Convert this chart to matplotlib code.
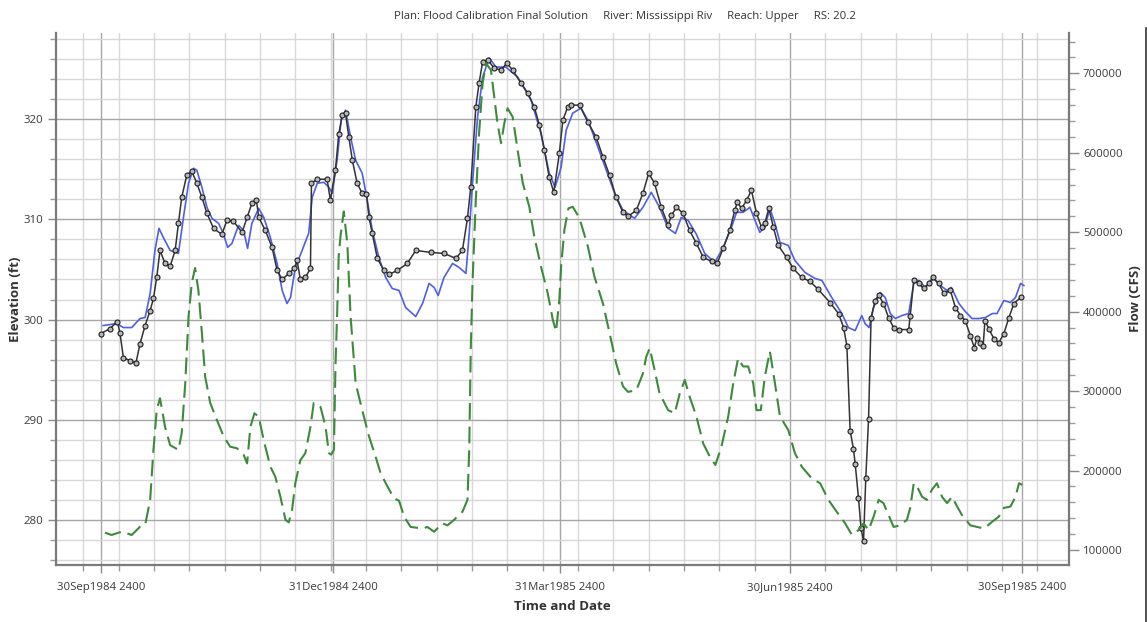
import numpy as np
import matplotlib
matplotlib.use("Agg")
import matplotlib.pyplot as plt
from matplotlib.ticker import FixedLocator, MultipleLocator, FuncFormatter
from matplotlib.lines import Line2D
import matplotlib.dates as mdates

plt.rcParams['font.family'] = ['Open Sans', 'DejaVu Sans']
plt.rcParams['lines.scale_dashes'] = False

# ---------------- data (day offsets from 01Oct1984 0000) ----------------
obs_day = [0, 3.6, 6.5, 7.5, 8.9, 11.5, 13.9, 15.5, 17.5, 19.5,
           20.8, 22.1, 23.4, 25.4, 27.4, 29.4, 30.7, 32.0, 34.0, 36.0,
           38.0, 40.0, 42.0, 44.6, 47.9, 49.9, 52.5, 55.9, 57.9, 59.8,
           61.6, 62.5, 65.1, 67.8, 69.8, 71.8, 74.4, 76.6, 77.7, 79.0,
           81.0, 83.0, 83.4, 85.7, 89.6, 90.9, 92.9, 94.2, 95.6, 96.9,
           98.2, 99.6, 101.5, 103.5, 105.2, 106.2, 107.5, 109.5, 112.1, 114.1,
           117.4, 121.4, 124.7, 130.7, 135.9, 140.6, 143.2, 145.2, 146.5, 148.5,
           149.8, 151.2, 153.2, 155.8, 158.5, 160.8, 163.1, 166.4, 169.1, 171.7,
           173.7, 175.7, 177.6, 179.4, 181.6, 183.0, 184.9, 186.3, 189.6, 192.9,
           196.2, 198.9, 201.5, 204.1, 206.8, 208.8, 212.1, 214.7, 217.0, 219.3,
           222.0, 224.7, 226.0, 228.0, 230.6, 233.2, 235.9, 238.6, 241.9, 244.1,
           246.5, 249.1, 251.1, 252.1, 253.8, 255.8, 257.7, 259.7, 261.7, 263.0,
           264.6, 266.4, 268.3, 271.6, 274.3, 277.6, 280.9, 284.2, 288.8, 292.2,
           294.2, 295.5, 296.8, 298.1, 298.8, 300.1, 301.1, 302.1, 303.0, 304.1,
           305.1, 306.7, 308.1, 310.0, 312.0, 314.0, 316.0, 320.0, 320.6, 322.0,
           324.0, 325.9, 327.9, 329.5, 331.9, 333.9, 336.5, 338.5, 340.5, 342.4,
           344.4, 346.0, 347.1, 348.4, 349.5, 350.2, 351.7, 353.7, 355.7, 357.7,
           359.7, 361.7, 364.3]
obs_elev = [298.6, 299.1, 299.8, 298.7, 296.2, 295.9, 295.7, 297.6, 299.4, 300.9,
            302.1, 304.2, 306.9, 305.6, 305.3, 306.9, 309.6, 312.2, 314.4, 314.8,
            313.6, 312.2, 310.6, 309.1, 308.5, 309.9, 309.8, 308.7, 310.2, 311.6,
            311.9, 310.2, 308.9, 307.2, 304.9, 304.0, 304.6, 305.1, 305.9, 304.0,
            304.2, 305.1, 313.6, 314.0, 314.0, 311.9, 314.9, 318.5, 320.4, 320.6,
            318.2, 315.9, 313.6, 312.6, 312.5, 310.2, 308.6, 306.1, 304.9, 304.5,
            304.9, 305.6, 306.9, 306.7, 306.6, 306.1, 306.9, 310.1, 313.2, 321.2,
            323.6, 325.7, 325.9, 325.1, 324.9, 325.6, 324.9, 323.6, 322.6, 321.2,
            319.4, 316.9, 314.2, 312.7, 316.6, 319.9, 321.2, 321.4, 321.4, 319.7,
            318.2, 316.2, 314.4, 312.2, 310.7, 310.3, 310.9, 312.6, 314.6, 313.6,
            311.2, 309.4, 310.4, 311.2, 310.6, 308.9, 307.6, 306.2, 305.8, 305.6,
            307.1, 308.9, 310.9, 311.7, 311.1, 311.9, 312.9, 310.6, 309.2, 309.6,
            311.1, 309.2, 307.4, 306.2, 305.1, 304.2, 303.8, 303.0, 301.7, 300.6,
            299.2, 297.4, 288.9, 287.1, 285.6, 282.2, 279.2, 277.9, 284.2, 290.1,
            300.2, 301.9, 302.4, 301.6, 300.2, 299.2, 299.0, 299.0, 300.4, 303.9,
            303.6, 303.1, 303.6, 304.2, 303.6, 302.6, 302.9, 301.2, 300.4, 299.9,
            298.4, 297.2, 298.2, 297.7, 297.4, 299.9, 299.1, 298.1, 297.7, 298.6,
            300.2, 301.6, 302.2]

sim_day = [0.9, 6.2, 8.9, 12.2, 15.5, 17.5, 19.5, 21.4, 23.0, 24.7,
           27.4, 30.7, 32.7, 34.7, 36.7, 38.0, 40.0, 42.0, 44.0, 46.6,
           48.3, 50.2, 51.9, 54.5, 56.5, 58.1, 59.8, 62.5, 64.5, 67.1,
           69.8, 71.8, 73.7, 75.1, 77.0, 79.7, 82.3, 83.7, 85.7, 88.3,
           90.3, 91.6, 93.6, 95.2, 96.9, 98.9, 100.9, 103.5, 105.5, 107.5,
           110.1, 112.8, 115.4, 118.1, 120.7, 124.7, 127.4, 130.0, 132.0, 133.6,
           135.9, 139.3, 141.9, 144.6, 145.9, 147.2, 149.2, 151.2, 153.8, 156.5,
           160.4, 165.1, 170.4, 174.3, 177.6, 179.9, 182.3, 184.3, 186.9, 190.2,
           192.9, 196.9, 200.2, 203.5, 206.8, 211.4, 214.7, 218.0, 221.3, 224.7,
           227.6, 229.9, 232.6, 235.9, 239.2, 243.2, 246.5, 249.8, 251.8, 254.4,
           257.1, 259.1, 261.0, 263.0, 265.0, 267.0, 269.0, 272.3, 274.9, 278.9,
           282.9, 285.6, 289.5, 293.5, 296.1, 298.8, 301.4, 302.7, 304.3, 306.1,
           308.7, 310.7, 312.7, 314.7, 317.3, 320.0, 322.0, 324.0, 326.6, 329.9,
           332.6, 335.2, 336.9, 339.9, 342.4, 345.1, 347.7, 350.4, 353.1, 355.0,
           357.7, 360.3, 362.3, 364.3, 365.6]
sim_elev = [299.4, 299.6, 299.2, 299.2, 300.1, 300.2, 302.6, 306.9, 309.1, 308.2,
            306.9, 306.6, 310.2, 313.6, 315.1, 314.9, 313.2, 311.2, 310.1, 309.6,
            308.7, 307.2, 307.6, 309.4, 308.9, 307.1, 309.6, 311.1, 310.2, 308.2,
            305.6, 302.9, 301.6, 302.2, 305.2, 306.9, 308.6, 312.2, 313.6, 313.7,
            313.2, 312.6, 316.0, 320.0, 320.9, 318.2, 315.9, 314.6, 311.9, 308.9,
            306.2, 304.2, 303.1, 302.9, 301.2, 300.3, 301.6, 303.6, 303.2, 302.4,
            304.2, 305.6, 305.2, 304.6, 308.6, 313.6, 320.2, 324.2, 326.1, 325.2,
            325.2, 324.2, 321.9, 318.6, 314.6, 313.2, 315.2, 318.9, 320.6, 321.1,
            319.9, 317.2, 314.9, 312.6, 310.9, 310.1, 311.2, 312.7, 311.2, 309.1,
            308.6, 310.2, 309.9, 308.5, 306.6, 305.7, 307.2, 309.2, 310.7, 310.7,
            311.2, 309.9, 308.7, 309.2, 311.1, 309.6, 307.7, 307.4, 305.9, 304.7,
            304.1, 303.9, 302.2, 300.6, 299.2, 298.9, 300.4, 299.6, 299.2, 301.2,
            302.7, 302.2, 300.6, 300.1, 300.4, 300.6, 303.6, 303.9, 303.2, 304.1,
            303.4, 302.9, 303.2, 301.6, 300.8, 300.1, 300.1, 300.2, 300.6, 300.6,
            301.9, 301.7, 302.2, 303.6, 303.4]

flow_day = [1.6, 4.2, 8.2, 12.2, 15.5, 17.5, 19.5, 20.8, 22.1, 23.4,
            25.4, 27.4, 30.7, 32.0, 33.4, 34.7, 36.0, 37.3, 38.6, 40.0,
            41.3, 43.3, 45.9, 48.6, 51.2, 53.9, 56.5, 57.9, 59.2, 60.8,
            62.5, 64.5, 67.1, 69.1, 71.1, 73.1, 74.4, 75.7, 77.0, 79.0,
            81.0, 83.0, 84.3, 87.0, 89.0, 90.3, 91.2, 92.3, 92.9, 93.6,
            94.2, 94.9, 96.2, 97.6, 98.9, 100.9, 103.5, 106.2, 108.8, 110.8,
            113.5, 116.1, 118.1, 120.1, 122.7, 127.4, 129.3, 132.0, 135.3, 137.3,
            139.9, 143.2, 145.2, 145.9, 146.5, 147.2, 148.5, 149.8, 151.2, 152.5,
            154.5, 155.8, 157.1, 158.5, 159.8, 161.1, 163.1, 165.1, 167.1, 169.7,
            171.7, 174.3, 177.0, 179.0, 180.3, 181.6, 182.3, 183.6, 185.2, 186.9,
            188.8, 190.2, 192.9, 195.5, 198.9, 201.5, 204.1, 206.8, 208.8, 212.1,
            214.7, 216.0, 217.4, 219.3, 221.3, 224.7, 227.3, 229.3, 231.3, 233.2,
            235.9, 238.6, 241.2, 243.4, 245.8, 248.5, 250.5, 252.4, 254.4, 256.4,
            258.4, 259.7, 261.4, 263.0, 265.0, 267.0, 269.0, 272.3, 274.9, 277.6,
            281.6, 284.9, 288.2, 291.5, 294.8, 297.5, 300.1, 302.1, 304.1, 306.1,
            308.1, 310.0, 312.0, 314.0, 316.6, 319.3, 320.6, 322.0, 323.3, 325.3,
            327.2, 329.2, 331.2, 333.2, 335.2, 337.2, 339.2, 341.1, 344.4, 347.1,
            349.8, 353.1, 355.7, 357.7, 360.3, 362.3, 363.7, 365.0]
flow_k = [121.8, 118.9, 123, 118.9, 129.3, 131.4, 163, 226, 276, 291,
          255, 232, 226, 247, 310, 394, 436, 455, 427, 373,
          318, 285, 264, 243, 230, 228, 220, 209, 255, 272,
          268, 238, 205, 192, 167, 138, 134.8, 150, 184, 213,
          222, 255, 285, 280, 255, 222, 220, 226, 330, 400,
          470, 495, 526, 486, 394, 310, 276, 243, 217.5, 196.5,
          180, 165, 162, 142, 129, 127, 129, 123, 133.6, 131,
          138, 148, 163, 226, 352, 436, 540, 624, 687, 713,
          704, 671, 637, 612, 637, 656, 645, 603, 562, 532,
          494, 457, 423, 390, 375, 415, 457, 503, 530, 532,
          522, 511, 482, 444, 410, 373, 335, 306, 299, 301,
          322, 343, 354, 327, 297, 276, 272, 297, 314, 293,
          268, 234, 217.5, 207, 230, 268, 310, 341, 331, 331,
          310, 276, 276, 318, 350, 310, 268, 251, 222, 205,
          190, 184, 163, 148, 133.6, 119, 125, 133.6, 125, 142,
          163, 159, 144, 129, 131, 138, 153, 184, 180, 167,
          163, 176, 184, 167, 159, 167, 154.6, 144, 131, 129,
          127, 135.6, 142, 153, 154.6, 167, 184, 182]

major_dates = ['1984-10-01', '1985-01-01', '1985-04-01', '1985-07-01', '1985-10-01']
major_labels = ['30Sep1984 2400', '31Dec1984 2400', '31Mar1985 2400',
                '30Jun1985 2400', '30Sep1985 2400']
elev_ticks = [280, 290, 300, 310, 320]
flow_ticks = [100000, 200000, 300000, 400000, 500000, 600000, 700000]

assert len(obs_day) == len(obs_elev)
assert len(sim_day) == len(sim_elev)
assert len(flow_day) == len(flow_k)

base = np.datetime64('1984-10-01T00:00')


def to_dates(days):
    return base + (np.asarray(days) * 1440).round().astype('timedelta64[m]')


TICK_FS = 8.2
LABEL_FS = 9.6

fig = plt.figure(figsize=(11.47, 6.22), dpi=100)
W, H = 1147, 622
L, R, T, B = 56, 1069, 33, 565
ax = fig.add_axes([L / W, 1 - B / H, (R - L) / W, (B - T) / H])

ax.plot(to_dates(sim_day), sim_elev, color='#4f5fe6', lw=1.2, zorder=3)
ax.plot(to_dates(obs_day), obs_elev, color='#333333', lw=1.1, marker='o',
        ms=3.6, mfc='#b8b8b8', mec='#1e1e1e', mew=0.8, zorder=4)

ax.set_ylim(275.5, 328.6)
ax.set_xlim(base - np.timedelta64(int(17.8 * 1440), 'm'),
            base + np.timedelta64(int(383.5 * 1440), 'm'))

ax.yaxis.set_major_locator(FixedLocator(elev_ticks))
ax.yaxis.set_minor_locator(MultipleLocator(2))
ax.yaxis.set_major_formatter(FuncFormatter(lambda v, p: f'{v:.0f}'))

maj = [mdates.date2num(np.datetime64(d)) for d in major_dates]
minor_start = np.datetime64('1984-09-24')
minor = [mdates.date2num(minor_start + np.timedelta64(14 * k, 'D')) for k in range(30)]
ax.xaxis.set_minor_locator(FixedLocator(minor))
ax.set_xticks(maj)
ax.set_xticklabels(major_labels)

ax.set_axisbelow(True)
ax.grid(which='major', color='#a6a6a6', lw=1.0)
ax.grid(which='minor', color='#d8d8d8', lw=1.0)

for s in ['top', 'right']:
    ax.spines[s].set_visible(False)
for s in ['left', 'bottom']:
    ax.spines[s].set_color('#7a7a7a')
    ax.spines[s].set_linewidth(1.6)

ax.tick_params(axis='both', which='major', direction='out', length=6, width=1,
               color='#8a8a8a', labelsize=TICK_FS, labelcolor='#3a3a3a')
ax.tick_params(axis='both', which='minor', direction='out', length=4, width=1,
               color='#9a9a9a')
ax.tick_params(axis='x', which='major', pad=6)
ax.tick_params(axis='y', which='major', pad=3)

ax.set_ylabel('Elevation (ft)', fontsize=LABEL_FS, fontweight='bold', color='#333333')
ax.yaxis.set_label_coords((22 - L) / (R - L), 0.5)
ax.set_xlabel('Time and Date', fontsize=LABEL_FS, fontweight='bold', color='#333333')
ax.xaxis.set_label_coords(0.5, -(600 - B) / (B - T))

# right axis: flow
ax2 = ax.twinx()
ax2.plot(to_dates(flow_day), np.asarray(flow_k) * 1000, color='#3d8a3d', lw=1.5,
         dashes=(12, 5), zorder=2)
ax2.set_ylim(81100, 750700)
ax2.yaxis.set_major_locator(FixedLocator(flow_ticks))
ax2.yaxis.set_minor_locator(MultipleLocator(20000))
ax2.yaxis.set_major_formatter(FuncFormatter(lambda v, p: f'{v:.0f}'))
for s in ['top', 'left', 'bottom']:
    ax2.spines[s].set_visible(False)
ax2.spines['right'].set_color('#7a7a7a')
ax2.spines['right'].set_linewidth(1.6)
ax2.tick_params(axis='y', which='major', direction='out', length=7, width=1,
                color='#8a8a8a', labelsize=TICK_FS, labelcolor='#3a3a3a', pad=3)
ax2.tick_params(axis='y', which='minor', direction='out', length=4, width=1,
                color='#9a9a9a')
ax2.set_ylabel('Flow (CFS)', fontsize=LABEL_FS, fontweight='bold', color='#333333')
ax2.yaxis.set_label_coords((1129 - L) / (R - L), 0.5)

fig.text(625 / W, 1 - 16 / H,
         'Plan: Flood Calibration Final Solution     River: Mississippi Riv     Reach: Upper     RS: 20.2',
         ha='center', va='center', fontsize=TICK_FS, color='#333333')

fig.add_artist(Line2D([1146 / W, 1146 / W], [0, 1 - 28 / H], color='#333333', lw=1.2))

fig.savefig('out.png', dpi=100)
